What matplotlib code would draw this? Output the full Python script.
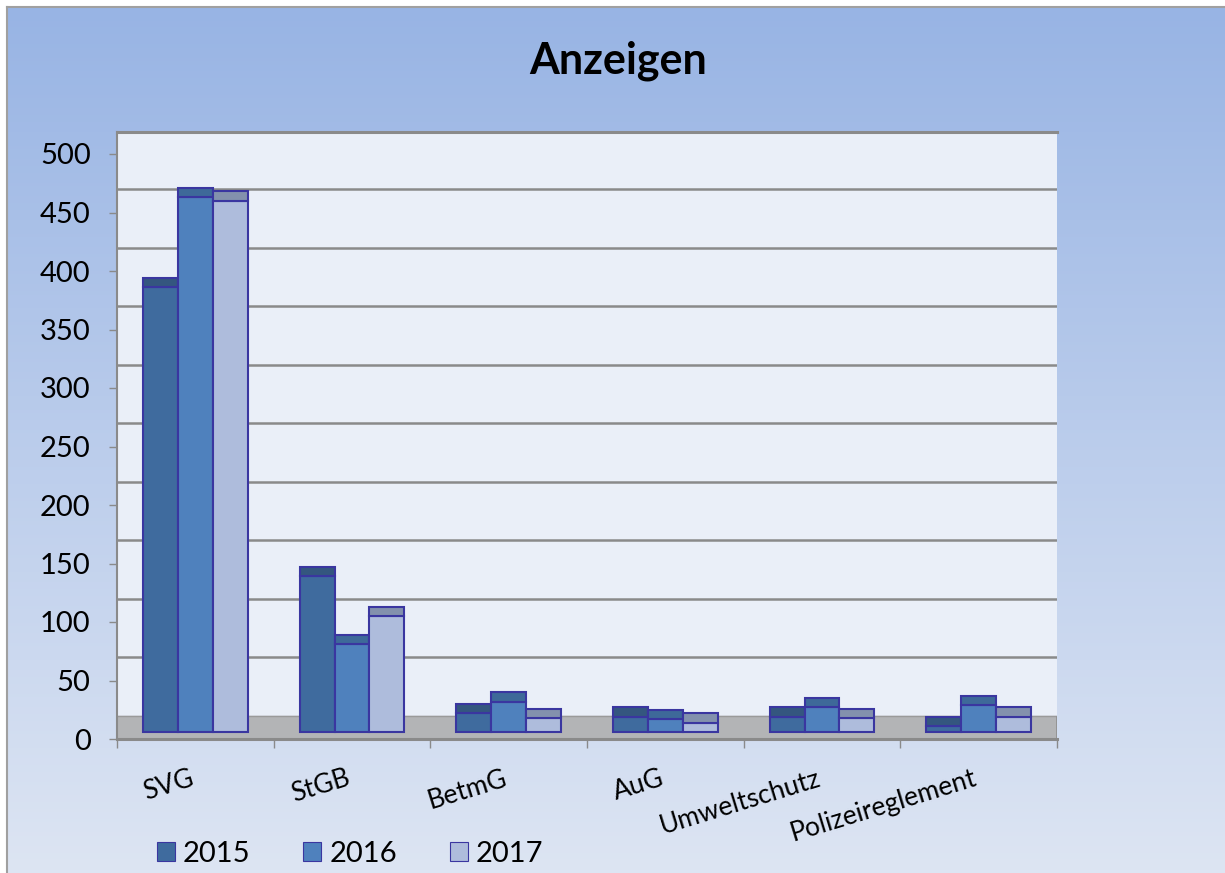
import numpy as np
import matplotlib
matplotlib.use("Agg")
import matplotlib.pyplot as plt
from matplotlib.patches import Patch
from matplotlib.colors import LinearSegmentedColormap

# ========================
# DATEN
# ========================
categories = ["SVG", "StGB", "BetmG", "AuG", "Umweltschutz", "Polizeireglement"]
years = ["2015", "2016", "2017"]
values_2015 = [380, 133, 16, 13, 13, 5]
values_2016 = [457, 75, 26, 11, 21, 23]
values_2017 = [454, 99, 12, 8, 12, 13]
y_ticks = [0, 50, 100, 150, 200, 250, 300, 350, 400, 450, 500]

# ========================
# STIL
# ========================
FONT = "Lato"
FS_TICK = 21
FS_CAT = 19
FS_TITLE = 31

front_colors = ["#3f6b9e", "#4f81bd", "#aebcdc"]
cap_colors = ["#34567f", "#3e6999", "#8391ad"]
EDGE = "#3a36a0"
GRID = "#8a8a8a"
FLOOR = "#b3b4b6"

DEPTH = 19.7      # Versatz Rueckwand (in Werteinheiten)
BASE = 6          # Vorderkante der Saeulen ueber 0
CAP = 8           # sichtbare Deckflaeche
BAR_W = 0.2234

plt.rcParams["font.family"] = [FONT, "DejaVu Sans"]

W, H = 1225, 873
fig = plt.figure(figsize=(W / 100, H / 100), dpi=100)

# Hintergrund mit Verlauf
bg = fig.add_axes([7 / W, 0, 1 - 7 / W, 1 - 7 / H], zorder=-10)
cmap = LinearSegmentedColormap.from_list("bg", ["#98b4e4", "#dde5f3"])
bg.imshow(np.linspace(0, 1, 256).reshape(-1, 1), cmap=cmap, aspect="auto",
          extent=[0, 1, 0, 1])
bg.set_xticks([])
bg.set_yticks([])
for s in ["right", "bottom"]:
    bg.spines[s].set_visible(False)
for s in ["left", "top"]:
    bg.spines[s].set_color("#a0a0a0")
    bg.spines[s].set_linewidth(1.5)

# ========================
# DIAGRAMM
# ========================
left, right, top, bottom = 117, 1057, 132, 739
ax = fig.add_axes([left / W, 1 - bottom / H, (right - left) / W, (bottom - top) / H])
ax.set_facecolor("#eaeff8")
ymax = (bottom - top) / 1.17
ax.set_xlim(-0.5, len(categories) - 0.5)
ax.set_ylim(0, ymax)

# Boden und Gitterlinien der Rueckwand
ax.axhspan(0, DEPTH, color=FLOOR, zorder=1)
ax.axhline(DEPTH, color="#9a9a9a", lw=1.0, zorder=1.5)
ax.hlines([v + DEPTH for v in y_ticks[1:] if v + DEPTH < ymax], -0.5, len(categories) - 0.5,
          color=GRID, lw=1.8, zorder=1.5)
ax.vlines(len(categories) - 0.5, 0, DEPTH, color=GRID, lw=1.8, zorder=1.5)

x = np.arange(len(categories))
series = [values_2015, values_2016, values_2017]
for i, vals in enumerate(series):
    vals = np.array(vals)
    pos = x + (i - 1) * BAR_W
    ax.bar(pos, vals, width=BAR_W, bottom=BASE, color=front_colors[i],
           edgecolor=EDGE, lw=1.5, zorder=3)
    ax.bar(pos, CAP, width=BAR_W, bottom=BASE + vals, color=cap_colors[i],
           edgecolor=EDGE, lw=1.5, zorder=3)

# Achsen
ax.spines["right"].set_visible(False)
ax.spines["top"].set_color(GRID)
ax.spines["top"].set_linewidth(2.2)
ax.spines["left"].set_color(GRID)
ax.spines["left"].set_linewidth(1.5)
ax.spines["bottom"].set_color(GRID)
ax.spines["bottom"].set_linewidth(2.2)

ax.set_yticks(y_ticks)
ax.set_yticklabels([str(v) for v in y_ticks])
ax.tick_params(axis="y", length=6, width=1, color=GRID, pad=13, labelsize=FS_TICK)

ax.set_xticks(x)
ax.set_xticklabels(categories)
ax.set_xticks(np.arange(-0.5, len(categories)), minor=True)
ax.tick_params(axis="x", which="major", length=0, pad=33, labelsize=FS_CAT)
ax.tick_params(axis="x", which="minor", length=6.5, width=1, color=GRID)
for lbl in ax.get_xticklabels():
    lbl.set_rotation(17)
    lbl.set_rotation_mode("anchor")
    lbl.set_ha("right")
    lbl.set_va("baseline")

# Titel
fig.text(618 / W, 1 - 61 / H, "Anzeigen", ha="center", va="center",
         fontsize=FS_TITLE, fontweight="bold")

# Legende
handles = [Patch(facecolor=front_colors[i], edgecolor=EDGE, lw=0.8) for i in range(3)]
fig.legend(handles, years, loc="center", bbox_to_anchor=(350 / W, 1 - 854 / H),
           ncol=3, frameon=False, fontsize=FS_TICK, handlelength=0.62,
           handleheight=0.62, handletextpad=0.28, columnspacing=1.8,
           borderpad=0, borderaxespad=0)

fig.savefig("out.png", dpi=100)
